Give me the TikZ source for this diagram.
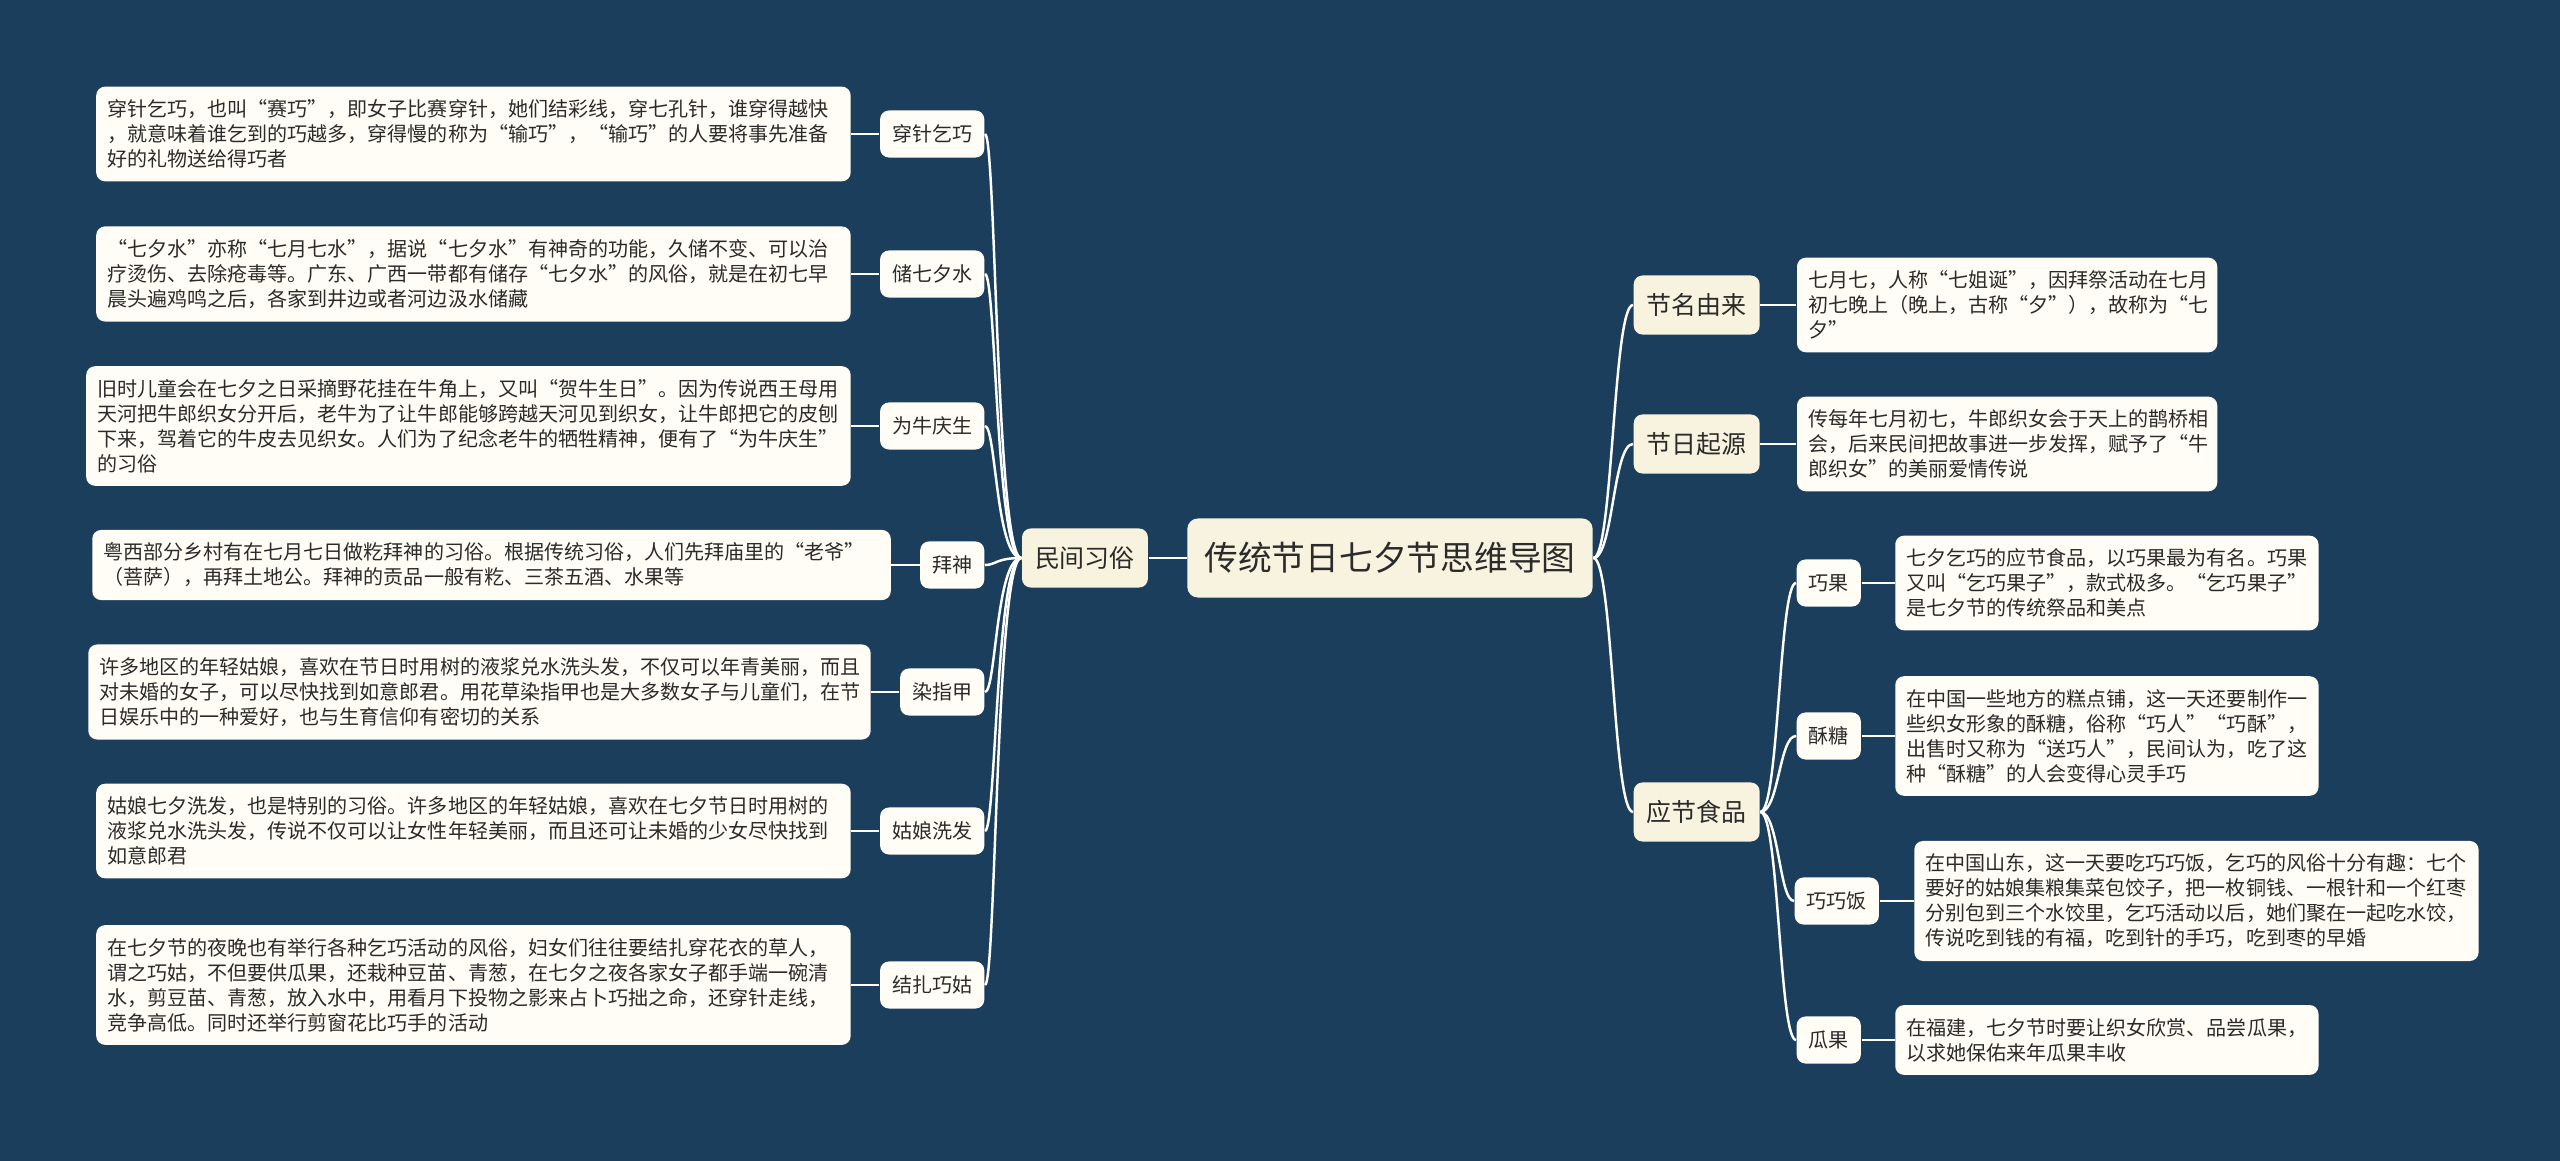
\documentclass[tikz,border=0pt]{standalone}
\usepackage{fontspec}
\newfontfamily\cjk{Noto Sans CJK SC}
\usepackage{tikz}
\usetikzlibrary{positioning}
\definecolor{bgnavy}{HTML}{1B3E5D}
\definecolor{topicbeige}{HTML}{F8F3DE}
\definecolor{leafcream}{HTML}{FFFDF6}
\definecolor{inkgray}{HTML}{2B2B2B}
\tikzset{
  title/.style={
    rectangle, fill=topicbeige, rounded corners=3pt,
    minimum height=0.79cm, inner xsep=0.17cm, text=inkgray,
    font=\cjk\fontsize{9.6pt}{11pt}\selectfont
  },
  branch/.style={
    rectangle, fill=topicbeige, rounded corners=2.5pt,
    minimum height=0.59cm, inner xsep=0.13cm, text=inkgray,
    font=\cjk\fontsize{7.1pt}{8.5pt}\selectfont
  },
  tag/.style={
    rectangle, fill=leafcream, rounded corners=2.5pt,
    minimum height=0.47cm, inner xsep=0.12cm, text=inkgray,
    font=\cjk\fontsize{5.7pt}{7pt}\selectfont
  },
  leaf/.style={
    rectangle, fill=leafcream, rounded corners=2.5pt,
    text width=#1, align=left, inner xsep=0.11cm, inner ysep=0.13cm,
    text=inkgray, font=\cjk\fontsize{5.7pt}{7.1pt}\selectfont
  },
  link/.style={draw=white, line width=0.7pt},
}

\begin{document}
\begin{tikzpicture}[x=0.01cm, y=-0.01cm]

\fill[bgnavy] (0,0) rectangle (2560,1161);
\useasboundingbox (0,0) rectangle (2560,1161);

% centre
\node[title] (qixi) at (1390,558) {传统节日七夕节思维导图};
\node[branch, left=0.38cm of qixi] (minsu) {民间习俗};
\draw[link] (qixi.west) -- (minsu.east);

% folk customs (left)
\node[tag, anchor=east] (chuanzhen) at (985,134) {穿针乞巧};
\node[tag, anchor=east] (chushui) at (985,274) {储七夕水};
\node[tag, anchor=east] (qingsheng) at (985,426) {为牛庆生};
\node[tag, anchor=east] (baishen) at (985,565) {拜神};
\node[tag, anchor=east] (zhijia) at (985,692) {染指甲};
\node[tag, anchor=east] (xifa) at (985,831) {姑娘洗发};
\node[tag, anchor=east] (qiaogu) at (985,985) {结扎巧姑};

\node[leaf=7.32cm, left=0.28cm of chuanzhen] (chuanzhenT) {穿针乞巧，也叫“赛巧”，即女子比赛穿针，她们结彩线，穿七孔针，谁穿得越快\\，就意味着谁乞到的巧越多，穿得慢的称为“输巧”，“输巧”的人要将事先准备\\好的礼物送给得巧者};
\node[leaf=7.32cm, left=0.28cm of chushui] (chushuiT) {“七夕水”亦称“七月七水”，据说“七夕水”有神奇的功能，久储不变、可以治\\疗烫伤、去除疮毒等。广东、广西一带都有储存“七夕水”的风俗，就是在初七早\\晨头遍鸡鸣之后，各家到井边或者河边汲水储藏};
\node[leaf=7.42cm, left=0.28cm of qingsheng] (qingshengT) {旧时儿童会在七夕之日采摘野花挂在牛角上，又叫“贺牛生日”。因为传说西王母用\\天河把牛郎织女分开后，老牛为了让牛郎能够跨越天河见到织女，让牛郎把它的皮刨\\下来，驾着它的牛皮去见织女。人们为了纪念老牛的牺牲精神，便有了“为牛庆生”\\的习俗};
\node[leaf=7.76cm, left=0.28cm of baishen] (baishenT) {粤西部分乡村有在七月七日做籺拜神的习俗。根据传统习俗，人们先拜庙里的“老爷”\\（菩萨），再拜土地公。拜神的贡品一般有籺、三茶五酒、水果等};
\node[leaf=7.60cm, left=0.28cm of zhijia] (zhijiaT) {许多地区的年轻姑娘，喜欢在节日时用树的液浆兑水洗头发，不仅可以年青美丽，而且\\对未婚的女子，可以尽快找到如意郎君。用花草染指甲也是大多数女子与儿童们，在节\\日娱乐中的一种爱好，也与生育信仰有密切的关系};
\node[leaf=7.32cm, left=0.28cm of xifa] (xifaT) {姑娘七夕洗发，也是特别的习俗。许多地区的年轻姑娘，喜欢在七夕节日时用树的\\液浆兑水洗头发，传说不仅可以让女性年轻美丽，而且还可让未婚的少女尽快找到\\如意郎君};
\node[leaf=7.32cm, left=0.28cm of qiaogu] (qiaoguT) {在七夕节的夜晚也有举行各种乞巧活动的风俗，妇女们往往要结扎穿花衣的草人，\\谓之巧姑，不但要供瓜果，还栽种豆苗、青葱，在七夕之夜各家女子都手端一碗清\\水，剪豆苗、青葱，放入水中，用看月下投物之影来占卜巧拙之命，还穿针走线，\\竞争高低。同时还举行剪窗花比巧手的活动};

\foreach \t in {chuanzhen, chushui, qingsheng, baishen, zhijia, xifa, qiaogu} {
  \draw[link] (minsu.west) .. controls (996,558) and (996,558 |- \t.east) .. (\t.east);
  \draw[link] (\t.west) -- (\t T.east);
}

% right side
\node[branch, anchor=west] (jieming) at (1633,305) {节名由来};
\node[branch, anchor=west] (qiyuan) at (1633,444) {节日起源};
\node[branch, anchor=west] (shipin) at (1633,812) {应节食品};

\node[leaf=3.98cm, right=0.36cm of jieming] (jiemingT) {七月七，人称“七姐诞”，因拜祭活动在七月\\初七晚上（晚上，古称“夕”），故称为“七\\夕”};
\node[leaf=3.98cm, right=0.36cm of qiyuan] (qiyuanT) {传每年七月初七，牛郎织女会于天上的鹊桥相\\会，后来民间把故事进一步发挥，赋予了“牛\\郎织女”的美丽爱情传说};

\foreach \t in {jieming, qiyuan, shipin} {
  \draw[link] (qixi.east) .. controls (1613,558) and (1613,558 |- \t.west) .. (\t.west);
}
\draw[link] (jieming.east) -- (jiemingT.west);
\draw[link] (qiyuan.east) -- (qiyuanT.west);

% festival food
\node[tag, anchor=west] (qiaoguo) at (1796,583) {巧果};
\node[tag, anchor=west] (sutang) at (1796,736) {酥糖};
\node[tag, anchor=west] (qiaofan) at (1794,901) {巧巧饭};
\node[tag, anchor=west] (guaguo) at (1796,1040) {瓜果};

\node[leaf=4.01cm, right=0.33cm of qiaoguo] (qiaoguoT) {七夕乞巧的应节食品，以巧果最为有名。巧果\\又叫“乞巧果子”，款式极多。“乞巧果子”\\是七夕节的传统祭品和美点};
\node[leaf=4.01cm, right=0.33cm of sutang] (sutangT) {在中国一些地方的糕点铺，这一天还要制作一\\些织女形象的酥糖，俗称“巧人”“巧酥”，\\出售时又称为“送巧人”，民间认为，吃了这\\种“酥糖”的人会变得心灵手巧};
\node[leaf=5.42cm, right=0.34cm of qiaofan] (qiaofanT) {在中国山东，这一天要吃巧巧饭，乞巧的风俗十分有趣：七个\\要好的姑娘集粮集菜包饺子，把一枚铜钱、一根针和一个红枣\\分别包到三个水饺里，乞巧活动以后，她们聚在一起吃水饺，\\传说吃到钱的有福，吃到针的手巧，吃到枣的早婚};
\node[leaf=4.01cm, right=0.33cm of guaguo] (guaguoT) {在福建，七夕节时要让织女欣赏、品尝瓜果，\\以求她保佑来年瓜果丰收};

\foreach \t in {qiaoguo, sutang, qiaofan, guaguo} {
  \draw[link] (shipin.east) .. controls (1779,812) and (1779,812 |- \t.west) .. (\t.west);
  \draw[link] (\t.east) -- (\t T.west);
}

\end{tikzpicture}
\end{document}
